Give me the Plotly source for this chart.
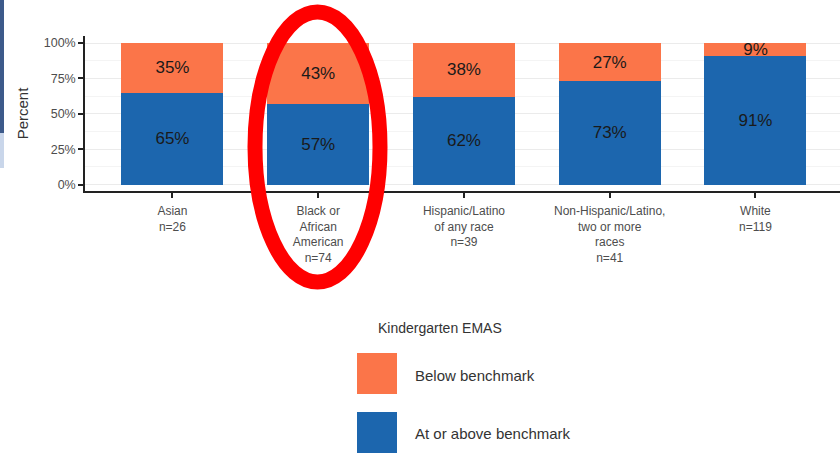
import plotly.graph_objects as go

categories = ["Asian<br>n=26", "Black or<br>African<br>American<br>n=74",
              "Hispanic/Latino<br>of any race<br>n=39",
              "Non-Hispanic/Latino,<br>two or more<br>races<br>n=41", "White<br>n=119"]
at_or_above = [65, 57, 62, 73, 91]
below = [35, 43, 38, 27, 9]
y_ticks = [0, 25, 50, 75, 100]
y_tick_labels = ["0%", "25%", "50%", "75%", "100%"]
legend_title = "Kindergarten EMAS"
legend_labels = ["Below benchmark", "At or above benchmark"]

ORANGE = "#FB7549"
BLUE = "#1C66AE"
FONT = "Liberation Sans, Arial, sans-serif"

W, H = 840, 453
L, R, T, B = 85, 840, 36, 191

def px(x):
    return (x - L) / (R - L)

def py(y):
    return (B - y) / (B - T)

xs = list(range(len(categories)))

fig = go.Figure()
fig.add_trace(go.Bar(x=xs, y=at_or_above, marker_color=BLUE, width=0.7,
                     text=[f"{v}%" for v in at_or_above], textposition="inside",
                     insidetextanchor="middle",
                     textfont=dict(size=17, color="#1a1a1a"), showlegend=False,
                     marker_line_width=0))
fig.add_trace(go.Bar(x=xs, y=below, marker_color=ORANGE, width=0.7,
                     text=[f"{v}%" for v in below], textposition="inside",
                     insidetextanchor="middle", constraintext="none",
                     textfont=dict(size=17, color="#1a1a1a"), showlegend=False,
                     marker_line_width=0, cliponaxis=False))

fig.update_layout(
    barmode="stack", width=W, height=H,
    margin=dict(l=L, r=W - R, t=T, b=H - B),
    plot_bgcolor="white", paper_bgcolor="white",
    font=dict(family=FONT, color="#4d4d4d", size=12),
    uniformtext=dict(minsize=17, mode="show"),
    xaxis=dict(range=[-0.6, 4.58], tickmode="array", tickvals=xs, ticktext=categories,
               ticks="outside", ticklen=5, tickwidth=2, tickcolor="#222",
               showline=True, linecolor="#222", linewidth=1.5, showgrid=False,
               zeroline=False, ticklabelstandoff=3,
               tickfont=dict(size=12, color="#4d4d4d")),
    yaxis=dict(range=[-4.5, 105], tickmode="array", tickvals=y_ticks, ticktext=y_tick_labels,
               ticks="outside", ticklen=5, tickwidth=2, tickcolor="#222",
               showline=True, linecolor="#222", linewidth=1.5,
               showgrid=True, gridcolor="#ebebeb", gridwidth=1,
               minor=dict(tickvals=[12.5, 37.5, 62.5, 87.5], showgrid=True,
                          gridcolor="#f4f4f4", gridwidth=1, ticks=""),
               zeroline=False, title=dict(text="Percent", font=dict(size=15, color="#333"),
                                          standoff=12),
               tickfont=dict(size=12.5, color="#4d4d4d")),
)

shapes = []
# slide edge decoration
shapes.append(dict(type="rect", xref="paper", yref="paper", x0=px(0), x1=px(4),
                   y0=py(0), y1=py(133), fillcolor="#3D5A8A", line_width=0, layer="above"))
shapes.append(dict(type="rect", xref="paper", yref="paper", x0=px(0), x1=px(4),
                   y0=py(133), y1=py(168), fillcolor="#C9D6EA", line_width=0, layer="above"))
# legend keys
shapes.append(dict(type="rect", xref="paper", yref="paper", x0=px(357), x1=px(397),
                   y0=py(353), y1=py(394), fillcolor=ORANGE, line_width=0))
shapes.append(dict(type="rect", xref="paper", yref="paper", x0=px(357), x1=px(397),
                   y0=py(412), y1=py(453), fillcolor=BLUE, line_width=0))
# red highlight ellipse
shapes.append(dict(type="circle", xref="paper", yref="paper", x0=px(255), x1=px(380),
                   y0=py(12), y1=py(282), line=dict(color="#FF0000", width=15),
                   fillcolor="rgba(0,0,0,0)", layer="above"))
fig.update_layout(shapes=shapes)

annotations = [
    dict(text=legend_title, xref="paper", yref="paper", x=px(440), y=py(328),
         showarrow=False, font=dict(size=14, color="#333"), xanchor="center", yanchor="middle"),
    dict(text=legend_labels[0], xref="paper", yref="paper", x=px(413), y=py(375),
         showarrow=False, font=dict(size=15, color="#333"), xanchor="left", yanchor="middle"),
    dict(text=legend_labels[1], xref="paper", yref="paper", x=px(413), y=py(433),
         showarrow=False, font=dict(size=15, color="#333"), xanchor="left", yanchor="middle"),
]
fig.update_layout(annotations=annotations)

fig.write_html("out.html", config={"displayModeBar": False},
               post_script="document.body.style.margin='0';document.body.style.overflow='hidden';")
